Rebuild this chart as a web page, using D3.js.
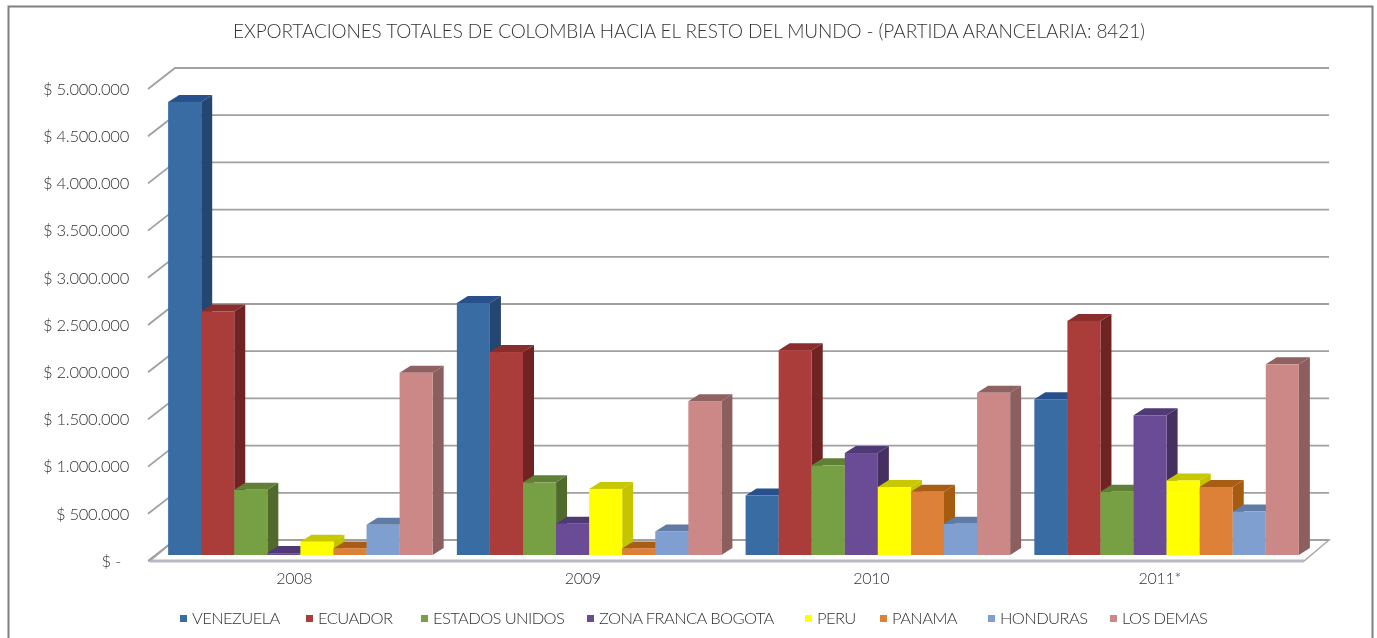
<html>
<style>
body { margin: 0; background: white; }
svg { filter: blur(0.6px); }
text { font-family: Lato, "Open Sans", sans-serif; font-weight: 300; fill: #333; }
</style>
<script src="https://d3js.org/d3.v7.min.js"></script>
<body>
<svg id="main_vis" width=1377 height=638></svg>
<script>

var years = ["2008", "2009", "2010", "2011*"];
var countries = ["VENEZUELA", "ECUADOR", "ESTADOS UNIDOS", "ZONA FRANCA BOGOTA", "PERU", "PANAMA", "HONDURAS", "LOS DEMAS"];
var yTicks = [0, 500000, 1000000, 1500000, 2000000, 2500000, 3000000, 3500000, 4000000, 4500000, 5000000];

// values per country, one per year
var venezuela = [4800000, 2670000, 630000, 1650000];
var ecuador = [2580000, 2150000, 2170000, 2480000];
var estadosUnidos = [690000, 770000, 950000, 670000];
var zonaFranca = [20000, 330000, 1080000, 1480000];
var peru = [140000, 700000, 720000, 790000];
var panama = [70000, 70000, 670000, 720000];
var honduras = [320000, 250000, 330000, 460000];
var losDemas = [1930000, 1630000, 1720000, 2020000];
var series = [venezuela, ecuador, estadosUnidos, zonaFranca, peru, panama, honduras, losDemas];

var frontColors = ["#386ca3", "#aa3c3a", "#77a044", "#6a4b95", "#ffff00", "#dd8038", "#7f9fd1", "#cc8787"];
var sideColors = ["#254670", "#6f2322", "#4f6a2c", "#453160", "#c4c400", "#a55c10", "#5b759f", "#8c5f5f"];
var topColors = ["#27508c", "#8a2e2d", "#5f8036", "#503a75", "#c8c800", "#a85c14", "#5f7ba6", "#8f6161"];

// legend swatch positions
var legendX = [180, 306, 421, 587, 805, 880, 988, 1110];

var svg = d3.select("#main_vis");

// outer frame
svg.append("rect")
  .attr("x", 8.5).attr("y", 6.5).attr("width", 1364).attr("height", 640)
  .attr("fill", "white").attr("stroke", "#808080").attr("stroke-width", 2);

// title
svg.append("text")
  .attr("x", 689).attr("y", 38)
  .attr("text-anchor", "middle")
  .attr("font-size", "19px")
  .attr("textLength", 912)
  .attr("lengthAdjust", "spacing")
  .text("EXPORTACIONES TOTALES DE COLOMBIA HACIA EL RESTO DEL MUNDO - (PARTIDA ARANCELARIA: 8421)");

var depthX = 25, depthY = -21;   // depth of the floor
var barDX = 11, barDY = -7;      // depth of one bar

// y scale on the back wall, y scale on the front edge, y scale of the bar faces
var yBack = d3.scaleLinear().domain([0, 5000000]).range([540, 68]);
var yFront = d3.scaleLinear().domain([0, 5000000]).range([561, 89]);
var yBar = d3.scaleLinear().domain([0, 5000000]).range([555, 83]);

var xLabels = d3.scaleBand().domain(years).range([150, 1304]);
var xGroup = d3.scaleBand().domain(years).range([156, 1311]).paddingInner(0.0838).paddingOuter(0.042);
var xBar = d3.scaleBand().domain(d3.range(countries.length)).range([0, xGroup.bandwidth()]);

// floor
svg.append("path")
  .attr("d", d3.line()([[150, yFront(0)], [1304, yFront(0)], [1304 + depthX, yFront(0) + depthY], [150 + depthX, yFront(0) + depthY]]) + "Z")
  .attr("fill", "white").attr("stroke", "#a8a8a8").attr("stroke-width", 1.5);
svg.append("line")
  .attr("x1", 150).attr("x2", 1304).attr("y1", yFront(0)).attr("y2", yFront(0))
  .attr("stroke", "#b8b8c4").attr("stroke-width", 3);

// gridlines on the walls
svg.append("g").selectAll("path")
  .data(yTicks)
  .enter().append("path")
  .attr("fill", "none").attr("stroke", "#a0a0a0").attr("stroke-width", 1.8)
  .attr("d", function(d) {
    return d3.line()([[148, yFront(d)], [150 + depthX, yBack(d)], [1304 + depthX, yBack(d)]]);
  });

// bars, left to right so each one hides the side of the one before
years.forEach(function(year, i) {
  series.forEach(function(values, s) {
    var x0 = xGroup(year) + xBar(s);
    var x1 = x0 + xBar.bandwidth();
    var top = yBar(values[i]);
    var base = yBar(0);
    var g = svg.append("g");
    g.append("path")
      .attr("fill", sideColors[s])
      .attr("d", d3.line()([[x1, top], [x1 + barDX, top + barDY], [x1 + barDX, base + barDY], [x1, base]]) + "Z");
    g.append("path")
      .attr("fill", topColors[s])
      .attr("d", d3.line()([[x0, top], [x0 + barDX, top + barDY], [x1 + barDX, top + barDY], [x1, top]]) + "Z");
    g.append("rect")
      .attr("x", x0).attr("y", top)
      .attr("width", xBar.bandwidth()).attr("height", base - top)
      .attr("fill", frontColors[s]);
  });
});

// y axis labels
var moneyFormat = function(d) {
  if (d == 0) return "$ -";
  return "$ " + d3.format(",")(d).replace(/,/g, ".");
};
var yAxis = svg.append("g")
  .attr("transform", "translate(150,0)")
  .call(d3.axisLeft(yFront).tickValues(yTicks).tickFormat(moneyFormat).tickSize(0).tickPadding(21));
yAxis.select(".domain").remove();
yAxis.selectAll("text")
  .attr("font-size", "16.5px")
  .attr("letter-spacing", "-0.25px")
  .style("font-family", "Lato, sans-serif").style("font-weight", "300").style("fill", "#333");
yAxis.selectAll("text").filter(function(d) { return d == 0; }).attr("dx", -8);

// x axis labels
var xAxis = svg.append("g")
  .attr("transform", "translate(0,570)")
  .call(d3.axisBottom(xLabels).tickSize(0).tickPadding(0));
xAxis.select(".domain").remove();
xAxis.selectAll("text")
  .attr("font-size", "16px")
  .attr("letter-spacing", "-0.3px")
  .attr("dy", "0.9em")
  .style("font-family", "Lato, sans-serif").style("font-weight", "300").style("fill", "#333");

// legend
var legend = svg.append("g").selectAll("g")
  .data(countries)
  .enter().append("g")
  .attr("transform", function(d, i) { return "translate(" + legendX[i] + ",618)"; });
legend.append("rect")
  .attr("x", 0).attr("y", -3).attr("width", 7).attr("height", 7)
  .attr("fill", function(d, i) { return frontColors[i]; });
legend.append("text")
  .attr("x", 12).attr("y", 6)
  .attr("font-size", "16.5px")
  .attr("letter-spacing", "-0.6px")
  .text(function(d) { return d; });

</script>
</body>
</html>
